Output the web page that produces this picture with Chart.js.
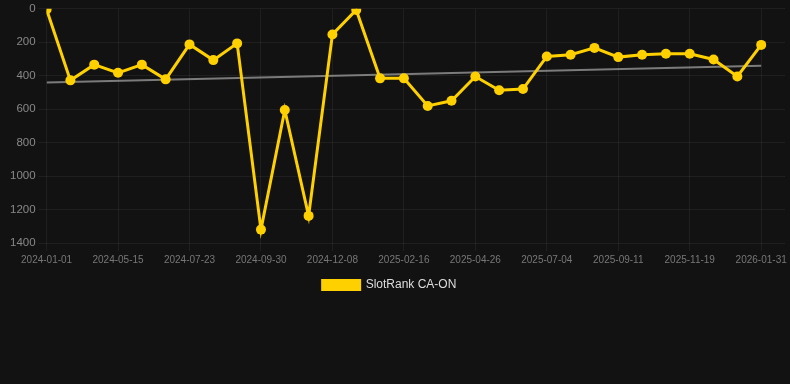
<!DOCTYPE html>
<html>
<head>
<meta charset="utf-8">
<script src="https://cdn.jsdelivr.net/npm/chart.js@4/dist/chart.umd.min.js"></script>
<style>
  html, body { margin: 0; padding: 0; background: #121212; }
  #wrap { width: 790px; height: 301px; }
</style>
</head>
<body>
<div id="wrap"><canvas id="rankChart"></canvas></div>
<script>
// Fechas (una por punto) y posiciones en el ranking
const dates = [
  "2024-01-01", "2024-03-31", "2024-04-22", "2024-05-15", "2024-06-07", "2024-06-30",
  "2024-07-23", "2024-08-15", "2024-09-07", "2024-09-30", "2024-10-23", "2024-11-15",
  "2024-12-08", "2024-12-31", "2025-01-24", "2025-02-16", "2025-03-11", "2025-04-03",
  "2025-04-26", "2025-05-19", "2025-06-11", "2025-07-04", "2025-07-27", "2025-08-19",
  "2025-09-11", "2025-10-04", "2025-10-27", "2025-11-19", "2025-12-13", "2026-01-07",
  "2026-01-31"
];
const ranks = [
  5, 428, 334, 383, 334, 422, 213, 307, 207, 1320, 605, 1238, 154, 7, 416, 416,
  581, 550, 405, 487, 480, 285, 275, 234, 289, 275, 269, 269, 303, 405, 216
];
const yTicks = [0, 200, 400, 600, 800, 1000, 1200, 1400];
const seriesName = "SlotRank CA-ON";

// Línea de tendencia (mínimos cuadrados)
function trendLine(values) {
  const n = values.length;
  const mx = (n - 1) / 2;
  const my = values.reduce((a, b) => a + b, 0) / n;
  let num = 0, den = 0;
  values.forEach((v, i) => {
    num += (i - mx) * (v - my);
    den += (i - mx) * (i - mx);
  });
  const slope = num / den;
  return [
    { x: 0, y: my - slope * mx },
    { x: n - 1, y: my + slope * (n - 1 - mx) }
  ];
}

// Desplaza la leyenda un poco a la izquierda
const legendShift = {
  id: "legendShift",
  afterLayout(chart) {
    chart.legend.left -= 9;
    chart.legend.right -= 9;
  }
};

const points = ranks.map((v, i) => ({ x: i, y: v }));
const gridColor = "rgba(255,255,255,0.06)";
const font = "Liberation Sans, Arial, sans-serif";

new Chart(document.getElementById("rankChart"), {
  type: "line",
  data: {
    datasets: [
      {
        label: seriesName,
        data: points,
        borderColor: "#ffd000",
        backgroundColor: "#ffd000",
        borderWidth: 3,
        pointRadius: 5,
        pointBackgroundColor: "#ffd000",
        pointBorderWidth: 0,
        tension: 0
      },
      {
        label: "trend",
        data: trendLine(ranks),
        borderColor: "rgba(150,150,150,0.8)",
        borderWidth: 2,
        pointRadius: 0,
        fill: false
      }
    ]
  },
  options: {
    responsive: true,
    maintainAspectRatio: false,
    animation: false,
    layout: { padding: { left: 7 } },
    scales: {
      x: {
        type: "linear",
        min: 0,
        max: 31,
        afterBuildTicks: (axis) => {
          axis.ticks = dates
            .map((_, i) => ({ value: i }))
            .filter((t) => t.value % 3 === 0);
        },
        ticks: {
          color: "#777",
          font: { size: 10, family: font },
          maxRotation: 0,
          autoSkip: false,
          callback: (value) => dates[value]
        },
        grid: { color: gridColor },
        border: { display: false }
      },
      y: {
        reverse: true,
        min: 0,
        max: 1400,
        afterBuildTicks: (axis) => {
          axis.ticks = yTicks.map((v) => ({ value: v }));
        },
        ticks: {
          color: "#888",
          font: { size: 11.5, family: font, lineHeight: 1 },
          callback: (value) => String(value)
        },
        grid: { color: gridColor },
        border: { display: false }
      }
    },
    plugins: {
      legend: {
        position: "bottom",
        labels: {
          color: "#ddd",
          font: { size: 12, family: font },
          boxWidth: 37,
          boxHeight: 9,
          filter: (item) => item.text !== "trend"
        }
      },
      tooltip: { enabled: false }
    }
  },
  plugins: [legendShift]
});
</script>
</body>
</html>
